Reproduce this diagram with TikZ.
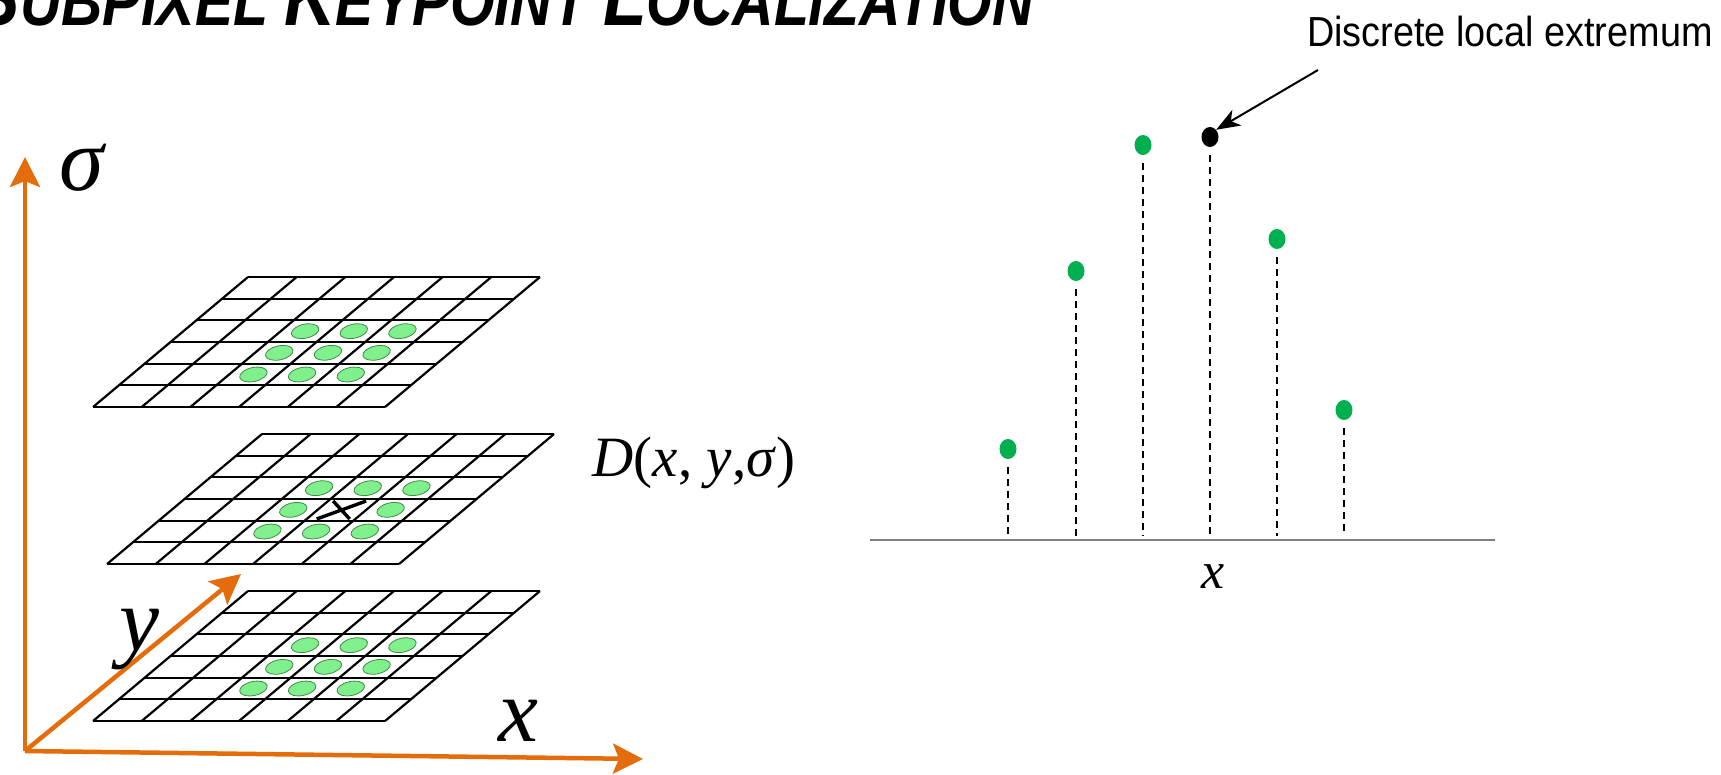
\documentclass[tikz,border=0pt]{standalone}
\usepackage{fontspec}
\setmainfont{Liberation Serif}
\newfontfamily\headfont[FakeStretch=0.83]{Liberation Sans}
\newfontfamily\notefont[FakeStretch=0.9]{Liberation Sans}
\usetikzlibrary{arrows.meta,calc,positioning,shapes.geometric}
\definecolor{Axis}{HTML}{E46C0A}
\definecolor{Blob}{HTML}{80F08C}
\definecolor{BlobEdge}{HTML}{3C8C46}
\definecolor{Sample}{HTML}{00B050}
\definecolor{Rule}{HTML}{7F7F7F}
\newcommand\headbig{\fontsize{86}{90}\selectfont}
\newcommand\headsmall{\fontsize{69}{72}\selectfont}
\newcommand\dogplane[3]{%
  \begin{scope}[shift={(#1,#2)},xslant=1.192]
    \foreach \ii in {0,...,6}
      \draw[cell] ({\ii*48.67},0) -- ({\ii*48.67},130);
    \foreach \jj in {0,...,6}
      \draw[cell] (0,{\jj*21.67}) -- (292,{\jj*21.67});
    \foreach \ci/\ri in {2/2,3/2,4/2,2/3,4/3,2/4,3/4,4/4}
      \node[blob] at ({(\ci+0.5)*48.67},{(\ri+0.5)*21.67}) {};
    #3
  \end{scope}}

\begin{document}
\begin{tikzpicture}[x=1pt,y=-1pt,
      cell/.style={line width=2.2pt,black},
      blob/.style={ellipse,minimum width=28pt,minimum height=14pt,inner sep=0pt,
        fill=Blob,draw=BlobEdge,line width=0.8pt,rotate=12},
      keypt/.style={line width=3.4pt,black},
      axisarrow/.style={line width=4.5pt,Axis,-{Stealth[length=30pt,width=30pt,inset=6pt]}},
      axislabel/.style={font=\fontsize{90}{94}\selectfont\itshape,inner sep=0pt},
      sample/.style={ellipse,minimum width=17pt,minimum height=20pt,inner sep=0pt,fill=Sample},
      stem/.style={line width=1.6pt,dash pattern=on 7pt off 5pt},
      pointer/.style={line width=2pt,-{Stealth[length=24pt,width=18pt,inset=7pt]}}]
      \path[use as bounding box,clip] (0,0) rectangle (1721,774);
      \node[anchor=base east,inner sep=0pt,font=\headfont\bfseries\itshape] (title) at (1034,25)
        {\headbig S\headsmall UBPIXEL \headbig K\headsmall EYPOINT \headbig L\headsmall OCALIZATION};
      \dogplane{248}{277}{\node[blob] at (170.3,75.8) {};}
      \dogplane{262}{434}{\draw[keypt] (156,85) -- (184,67) (151,67) -- (189,85);}
      \dogplane{248}{591}{\node[blob] at (170.3,75.8) {};}
      \coordinate (origin) at (25,751);
      \coordinate (sigtip) at (25,157);
      \coordinate (ytip) at (241,574);
      \coordinate (xtip) at (643,759);
      \draw[axisarrow] (origin) -- (sigtip);
      \draw[axisarrow] (origin) -- (ytip);
      \draw[axisarrow] (origin) -- (xtip);
      \node[axislabel] (sig) at (82,168) {σ};
      \node[axislabel] (ylab) at (139,640) {y};
      \node[axislabel] (xlab) at (518,721) {x};
      \node[font=\fontsize{57}{60}\selectfont] (dlab) at (694,463)
        {\textit{D}(\textit{x}, \textit{y},\textit{σ})};
      \coordinate (axl) at (870,540);
      \coordinate (axr) at (1495,540);
      \draw[Rule,line width=2.4pt] (axl) -- (axr);
      \node[font=\fontsize{52}{56}\selectfont\itshape] (xplot) at (1213,577) {x};
      \node[sample] (p1) at (1008,449) {};
      \node[sample] (p2) at (1076,271) {};
      \node[sample] (p3) at (1143,145) {};
      \node[sample,fill=black] (peak) at (1210,137) {};
      \node[sample] (p5) at (1277,239) {};
      \node[sample] (p6) at (1344,410) {};
      \foreach \p in {p1,p2,p3,peak,p5,p6}
        \draw[stem] ([yshift=-8pt]\p.south) -- ([yshift=4pt]\p |- axl);
      \node[anchor=base west,inner sep=0pt,font=\notefont\fontsize{42}{44}\selectfont] (lbl) at (1307,46)
        {Discrete local extremum};
      \coordinate (tail) at (1318,70);
      \draw[pointer] (tail) -- (peak.north east);
    \end{tikzpicture}
\end{document}
